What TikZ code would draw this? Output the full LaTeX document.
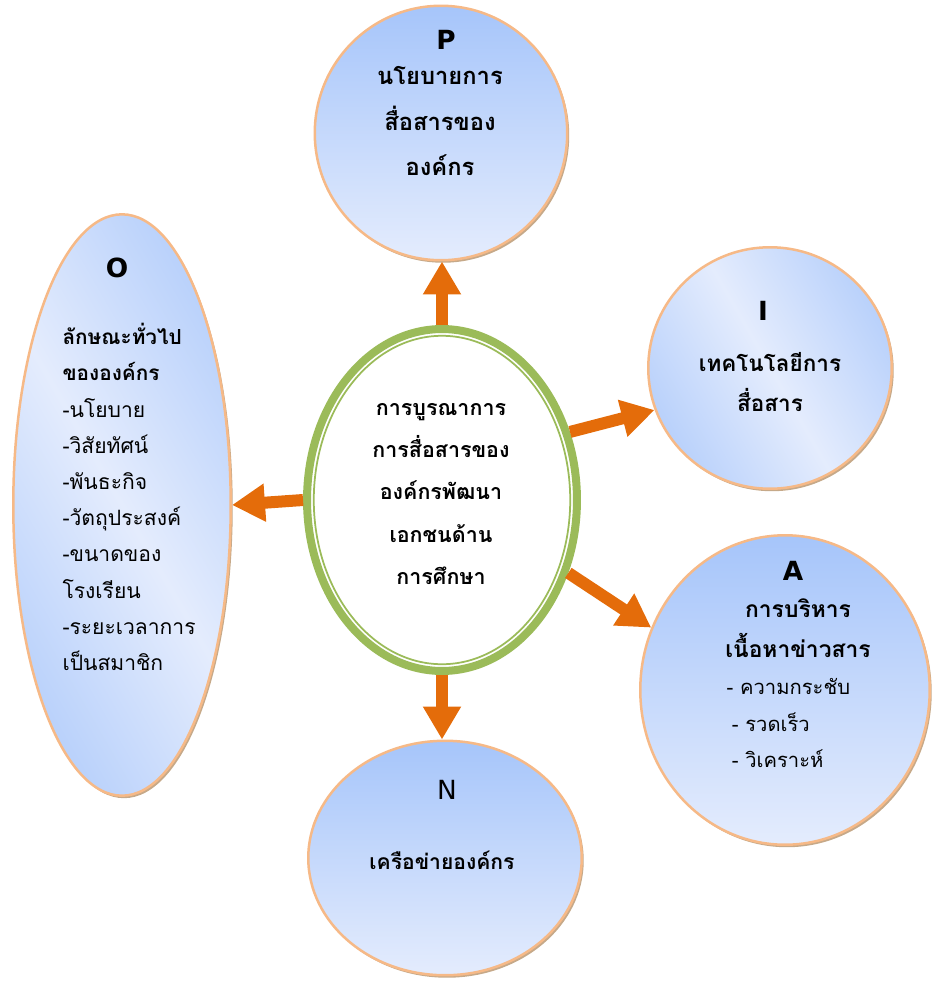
\documentclass[tikz,border=0pt]{standalone}
\usepackage{fontspec}
\newfontfamily\thai[Script=Thai]{Loma}
\newfontfamily\latin{DejaVu Sans}
\usepackage{tikz}
\usetikzlibrary{arrows.meta, positioning, shapes.geometric, shadows}
\usepackage{xcolor}

\definecolor{rimorange}{HTML}{F6B987}
\definecolor{shadowbrown}{HTML}{B8946C}
\definecolor{arroworange}{HTML}{E46C0A}
\definecolor{ringgreen}{HTML}{9BBB59}
\definecolor{skyblue}{HTML}{A6C5FA}
\definecolor{paleblue}{HTML}{E4ECFD}
\definecolor{midblue}{HTML}{B9D1FB}

\begin{document}
\begin{tikzpicture}[
    x=0.02cm, y=-0.02cm,
    thick,
    bubble/.style={ellipse, draw=rimorange, line width=0.05cm, inner sep=0pt,
        drop shadow={shadow xshift=0.04cm, shadow yshift=-0.05cm, fill=shadowbrown, opacity=0.8}},
    vbubble/.style={bubble, top color=skyblue, bottom color=paleblue},
    dbubble/.style={bubble, left color=midblue, right color=midblue, middle color=paleblue, shading angle=120},
    hub/.style={ellipse, draw=ringgreen, line width=0.16cm, fill=white, inner sep=0pt},
    flow/.style={draw=arroworange, line width=0.24cm, -{Triangle[length=0.66cm, width=0.72cm]}},
    letter/.style={font=\latin\bfseries\fontsize{15}{17}\selectfont},
    heading/.style={align=center, font=\thai\bfseries\fontsize{12.5}{24}\selectfont}
]
    \useasboundingbox (0,0) rectangle (931,981);

    % Bubbles
    \node[vbubble, minimum width=5.05cm, minimum height=5.09cm] (P) at (441,133) {};
    \node[dbubble, minimum width=4.35cm, minimum height=11.63cm] (O) at (122,505) {};
    \node[dbubble, minimum width=4.87cm, minimum height=4.83cm] (I) at (770,368) {};
    \node[vbubble, minimum width=5.79cm, minimum height=6.19cm] (A) at (785,690) {};
    \node[vbubble, minimum width=5.47cm, minimum height=4.69cm] (N) at (445,858) {};

    % Hub with double rim
    \node[hub, minimum width=5.4cm, minimum height=6.84cm] (C) at (442,500) {};
    \draw[ringgreen, line width=0.035cm] (C.center) ellipse (2.565cm and 3.285cm);

    % Arrows
    \draw[flow] (C.north) -- (C.north |- P.south);
    \draw[flow] (C.west) -- (O.east);
    \draw[flow] (C.28) -- (I.200);
    \draw[flow] (C.-30) -- (A.155);
    \draw[flow] (C.south) -- (C.south |- N.north);

    % Texts
    \node[heading, font=\thai\bfseries\fontsize{12.2}{24}\selectfont] (hubtext) at (441,494)
        {การบูรณาการ\\การสื่อสารของ\\องค์กรพัฒนา\\เอกชนด้าน\\การศึกษา};

    \node[letter] (Pkey) at (446,40) {P};
    \node[heading, font=\thai\bfseries\fontsize{13.5}{26}\selectfont] (Ptext) at (440,121) {นโยบายการ\\สื่อสารของ\\องค์กร};

    \node[letter] (Ikey) at (763,311) {I};
    \node[heading, font=\thai\bfseries\fontsize{12.8}{23}\selectfont] (Itext) at (770,382) {เทคโนโลยีการ\\สื่อสาร};

    \node[letter] (Akey) at (793,571) {A};
    \node[heading, font=\thai\bfseries\fontsize{13}{23}\selectfont] (Atext) at (798,628) {การบริหาร\\เนื้อหาข่าวสาร};
    \node[align=left, anchor=west, font=\thai\fontsize{11.5}{21}\selectfont] (Alist) at (720,723)
        {- ความกระชับ\\\hspace{3pt}- รวดเร็ว\\\hspace{3pt}- วิเคราะห์};

    \node[letter] (Okey) at (117,268) {O};
    \node[align=left, anchor=west, font=\thai\fontsize{12}{20.6}\selectfont] (Otext) at (56,497)
        {{\bfseries\fontsize{11.8}{19}\selectfont ลักษณะทั่วไป}\\{\bfseries\fontsize{11.8}{19}\selectfont ขององค์กร}\\-นโยบาย\\-วิสัยทัศน์\\-พันธะกิจ\\-วัตถุประสงค์\\-ขนาดของ\\โรงเรียน\\-ระยะเวลาการ\\เป็นสมาชิก};

    \node[font=\latin\fontsize{15}{17}\selectfont] (Nkey) at (447,790) {N};
    \node[heading, font=\thai\bfseries\fontsize{12}{16}\selectfont] (Ntext) at (442,860) {เครือข่ายองค์กร};
\end{tikzpicture}
\end{document}
